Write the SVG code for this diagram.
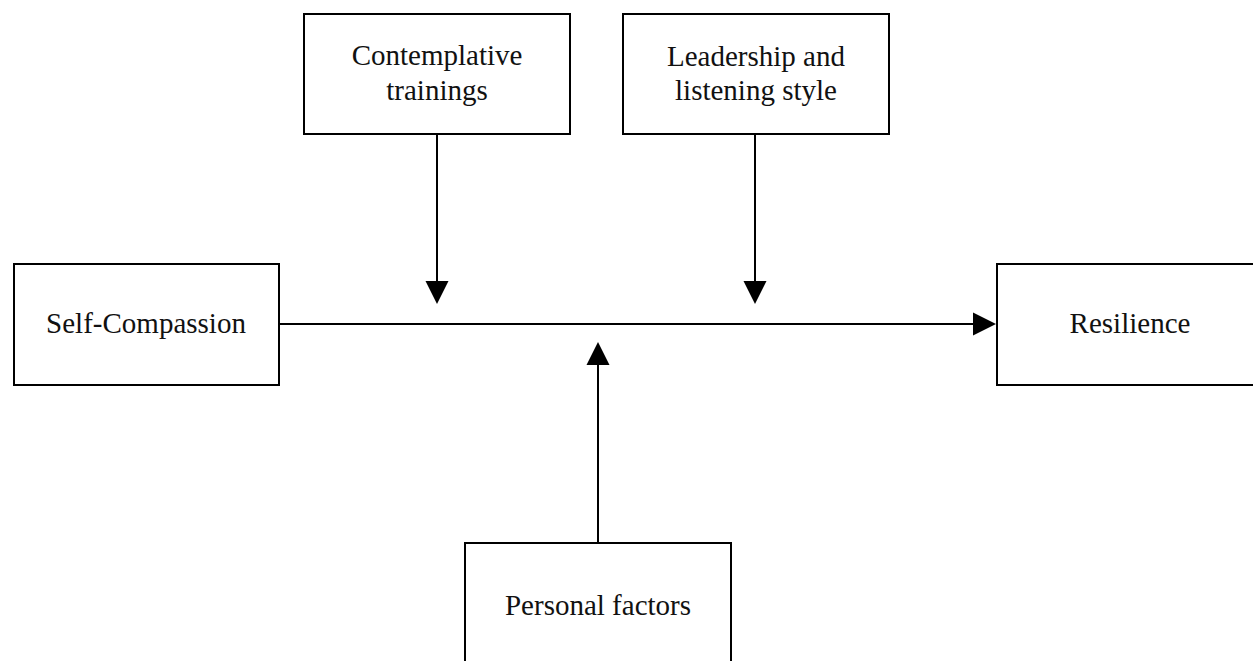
<svg xmlns="http://www.w3.org/2000/svg" width="1253" height="661" viewBox="0 0 1253 661">
<style>
.box{fill:#fff;stroke:#000;stroke-width:2}
.lbl{font-family:"Liberation Serif","Times New Roman",serif;font-size:29px;fill:#111;text-anchor:middle}
.conn{stroke:#000;stroke-width:2;fill:none}
.head{fill:#000}
</style>
<rect width="1253" height="661" fill="#fff"/>
<g id="self-compassion">
<rect class="box" x="14" y="264" width="265" height="121"/>
<text class="lbl" x="146" y="333">Self-Compassion</text>
</g>
<g id="resilience">
<rect class="box" x="997" y="264" width="266" height="121"/>
<text class="lbl" x="1130" y="333">Resilience</text>
</g>
<g id="contemplative">
<rect class="box" x="304" y="14" width="266" height="120"/>
<text class="lbl" x="437" y="65">Contemplative</text>
<text class="lbl" x="437" y="100">trainings</text>
</g>
<g id="leadership">
<rect class="box" x="623" y="14" width="266" height="120"/>
<text class="lbl" x="756" y="66">Leadership and</text>
<text class="lbl" x="756" y="100">listening style</text>
</g>
<g id="personal">
<rect class="box" x="465" y="543" width="266" height="130"/>
<text class="lbl" x="598" y="615">Personal factors</text>
</g>
<g id="connectors">
<line class="conn" x1="279" y1="324" x2="976" y2="324"/>
<polygon class="head" points="996,324 973,312.5 973,335.5"/>
<line class="conn" x1="437" y1="134" x2="437" y2="284"/>
<polygon class="head" points="437,304 425.5,281 448.5,281"/>
<line class="conn" x1="755" y1="134" x2="755" y2="284"/>
<polygon class="head" points="755,304 743.5,281 766.5,281"/>
<line class="conn" x1="598" y1="543" x2="598" y2="362"/>
<polygon class="head" points="598,342 586.5,365 609.5,365"/>
</g>
</svg>
